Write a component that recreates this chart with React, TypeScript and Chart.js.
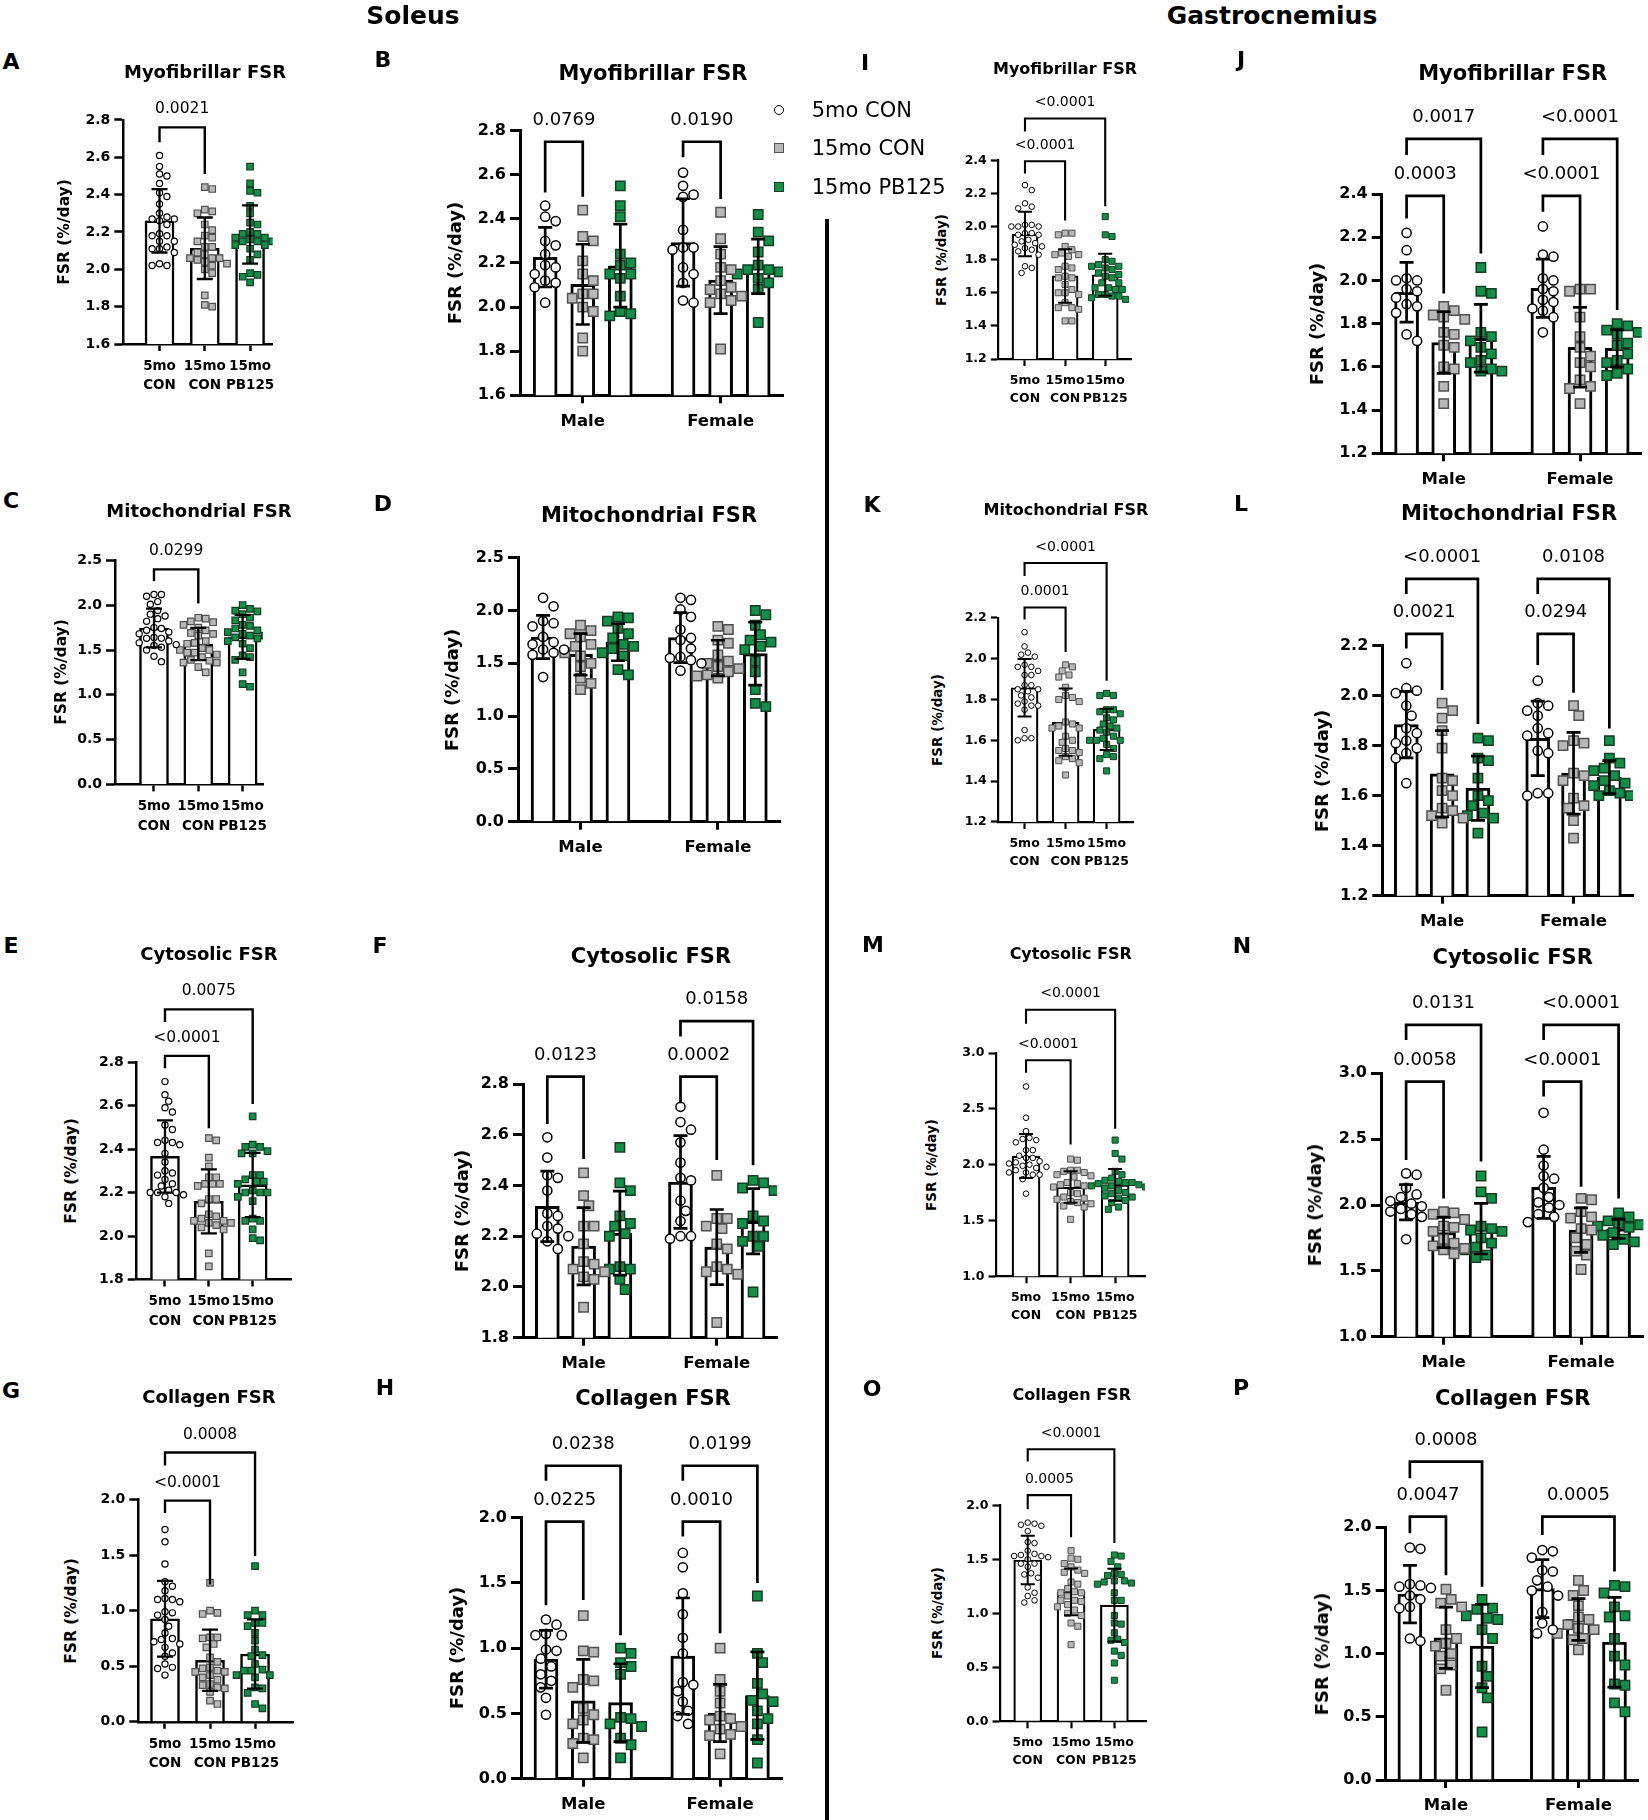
import React, { useEffect, useRef } from 'react';
import { Chart, registerables } from 'chart.js';

Chart.register(...registerables);

const FONT = '"DejaVu Sans", Verdana, sans-serif';

// ---------------- data ----------------
const groupLabels = ['5mo CON', '15mo CON', '15mo PB125'];
const smallTickLabels = [['5mo', 'CON'], ['15mo', 'CON'], ['15mo', 'PB125']];
const sexTickLabels = ['Male', 'Female'];

const yTicksSolMyo = [1.6, 1.8, 2.0, 2.2, 2.4, 2.6, 2.8];
const yTicksSolMito = [0, 0.5, 1.0, 1.5, 2.0, 2.5];
const yTicksSolCyto = [1.8, 2.0, 2.2, 2.4, 2.6, 2.8];
const yTicksCollagen = [0, 0.5, 1.0, 1.5, 2.0];
const yTicksGasMyo = [1.2, 1.4, 1.6, 1.8, 2.0, 2.2, 2.4];
const yTicksGasMito = [1.2, 1.4, 1.6, 1.8, 2.0, 2.2];
const yTicksGasCyto = [1.0, 1.5, 2.0, 2.5, 3.0];

// Soleus (order in each: 5mo CON, 15mo CON, 15mo PB125)
const soleusMyoMale = [
  [2.46, 2.41, 2.39, 2.30, 2.28, 2.24, 2.18, 2.19, 2.15, 2.12, 2.11, 2.09, 2.02],
  [2.44, 2.32, 2.30, 2.21, 2.15, 2.12, 2.06, 2.06, 2.04, 2.00, 1.98, 1.86, 1.80],
  [2.55, 2.46, 2.41, 2.24, 2.20, 2.19, 2.15, 2.15, 2.13, 2.05, 1.98, 1.97, 1.96],
];
const soleusMyoFemale = [
  [2.61, 2.55, 2.51, 2.50, 2.35, 2.27, 2.27, 2.26, 2.18, 2.15, 2.11, 2.03, 2.02],
  [2.43, 2.31, 2.24, 2.18, 2.17, 2.12, 2.09, 2.08, 2.06, 2.05, 2.03, 2.02, 1.81],
  [2.42, 2.34, 2.30, 2.25, 2.19, 2.17, 2.17, 2.16, 2.15, 2.13, 2.11, 2.08, 1.93],
];
const soleusMitoMale = [
  [2.12, 2.04, 1.90, 1.88, 1.85, 1.75, 1.70, 1.68, 1.63, 1.63, 1.60, 1.58, 1.37],
  [1.86, 1.81, 1.78, 1.75, 1.68, 1.66, 1.60, 1.57, 1.50, 1.47, 1.36, 1.31, 1.25],
  [1.94, 1.93, 1.90, 1.83, 1.78, 1.74, 1.68, 1.66, 1.64, 1.60, 1.57, 1.44, 1.39],
];
const soleusMitoFemale = [
  [2.12, 2.10, 2.01, 1.94, 1.82, 1.74, 1.72, 1.64, 1.56, 1.55, 1.53, 1.50, 1.43],
  [1.85, 1.82, 1.72, 1.69, 1.58, 1.52, 1.50, 1.47, 1.45, 1.42, 1.39, 1.38, 1.36],
  [2.00, 1.96, 1.86, 1.70, 1.77, 1.72, 1.66, 1.63, 1.52, 1.42, 1.25, 1.12, 1.09],
];
const soleusCytoMale = [
  [2.59, 2.51, 2.44, 2.43, 2.38, 2.29, 2.28, 2.24, 2.23, 2.21, 2.20, 2.18, 2.15],
  [2.45, 2.36, 2.32, 2.24, 2.24, 2.17, 2.10, 2.09, 2.07, 2.06, 2.04, 2.03, 1.92],
  [2.55, 2.41, 2.38, 2.28, 2.25, 2.24, 2.21, 2.20, 2.08, 2.07, 2.07, 2.03, 1.99],
];
const soleusCytoFemale = [
  [2.71, 2.65, 2.62, 2.57, 2.49, 2.43, 2.42, 2.34, 2.30, 2.26, 2.20, 2.20, 2.19],
  [2.44, 2.27, 2.27, 2.24, 2.23, 2.17, 2.15, 2.08, 2.07, 2.06, 2.05, 1.86],
  [2.42, 2.41, 2.39, 2.38, 2.28, 2.26, 2.25, 2.20, 2.20, 2.18, 2.16, 1.98],
];
const soleusCollMale = [
  [1.22, 1.18, 1.11, 1.10, 1.10, 0.99, 0.98, 0.92, 0.86, 0.80, 0.75, 0.70, 0.62, 0.49],
  [1.25, 0.98, 0.97, 0.76, 0.75, 0.70, 0.54, 0.49, 0.45, 0.42, 0.31, 0.30, 0.27, 0.16],
  [1.00, 0.96, 0.89, 0.86, 0.80, 0.47, 0.46, 0.42, 0.40, 0.31, 0.26, 0.16],
];
const soleusCollFemale = [
  [1.73, 1.62, 1.42, 1.26, 1.08, 0.96, 0.74, 0.72, 0.67, 0.59, 0.52, 0.48, 0.42],
  [1.00, 0.76, 0.67, 0.58, 0.48, 0.46, 0.45, 0.40, 0.38, 0.34, 0.33, 0.19],
  [1.40, 0.96, 0.89, 0.73, 0.65, 0.60, 0.59, 0.52, 0.46, 0.42, 0.30, 0.12],
];

// Gastrocnemius
const gastroMyoMale = [
  [2.22, 2.14, 2.00, 2.01, 2.00, 1.95, 1.96, 1.92, 1.89, 1.88, 1.85, 1.75, 1.72],
  [1.88, 1.86, 1.84, 1.83, 1.82, 1.76, 1.75, 1.70, 1.69, 1.60, 1.59, 1.51, 1.43],
  [2.06, 1.95, 1.94, 1.76, 1.74, 1.72, 1.69, 1.66, 1.63, 1.62, 1.59, 1.58, 1.58],
];
const gastroMyoFemale = [
  [2.25, 2.12, 2.11, 2.01, 2.00, 1.96, 1.95, 1.91, 1.90, 1.87, 1.86, 1.83, 1.76],
  [1.96, 1.96, 1.95, 1.83, 1.74, 1.69, 1.65, 1.62, 1.60, 1.54, 1.51, 1.50, 1.43],
  [1.80, 1.79, 1.77, 1.76, 1.75, 1.71, 1.70, 1.66, 1.63, 1.62, 1.59, 1.57, 1.56],
];
const gastroMitoMale = [
  [2.13, 2.03, 2.02, 2.01, 1.96, 1.92, 1.87, 1.85, 1.82, 1.81, 1.79, 1.77, 1.75, 1.65],
  [1.97, 1.94, 1.91, 1.86, 1.79, 1.67, 1.66, 1.62, 1.60, 1.55, 1.54, 1.52, 1.51, 1.49],
  [1.83, 1.82, 1.75, 1.74, 1.67, 1.60, 1.58, 1.56, 1.53, 1.52, 1.51, 1.45],
];
const gastroMitoFemale = [
  [2.06, 1.97, 1.96, 1.94, 1.92, 1.87, 1.85, 1.84, 1.78, 1.77, 1.61, 1.61, 1.60],
  [1.96, 1.92, 1.82, 1.81, 1.80, 1.69, 1.68, 1.66, 1.59, 1.56, 1.55, 1.50, 1.43],
  [1.82, 1.75, 1.73, 1.71, 1.70, 1.68, 1.66, 1.65, 1.64, 1.62, 1.61, 1.60, 1.60],
];
const gastroCytoMale = [
  [2.24, 2.23, 2.13, 2.08, 2.06, 2.03, 2.01, 1.99, 1.97, 1.95, 1.93, 1.91, 1.74],
  [1.95, 1.94, 1.93, 1.89, 1.84, 1.83, 1.80, 1.74, 1.71, 1.69, 1.67, 1.66, 1.63],
  [2.22, 2.10, 2.05, 1.84, 1.82, 1.81, 1.80, 1.75, 1.71, 1.68, 1.66, 1.62, 1.60],
];
const gastroCytoFemale = [
  [2.70, 2.42, 2.30, 2.22, 2.20, 2.13, 2.06, 2.02, 2.00, 1.98, 1.93, 1.91, 1.87],
  [2.05, 2.04, 1.95, 1.91, 1.90, 1.82, 1.81, 1.75, 1.70, 1.65, 1.62, 1.51],
  [1.94, 1.91, 1.88, 1.86, 1.85, 1.84, 1.83, 1.81, 1.79, 1.77, 1.74, 1.72, 1.70],
];
const gastroCollMale = [
  [1.84, 1.83, 1.55, 1.54, 1.53, 1.52, 1.46, 1.43, 1.37, 1.36, 1.12, 1.10],
  [1.51, 1.43, 1.40, 1.37, 1.19, 1.12, 1.08, 1.06, 1.00, 0.98, 0.91, 0.88, 0.71],
  [1.43, 1.36, 1.35, 1.30, 1.28, 1.27, 1.19, 1.12, 0.90, 0.82, 0.73, 0.65, 0.38],
];
const gastroCollFemale = [
  [1.82, 1.81, 1.76, 1.66, 1.65, 1.58, 1.53, 1.50, 1.46, 1.33, 1.24, 1.19, 1.16],
  [1.58, 1.50, 1.46, 1.38, 1.29, 1.27, 1.23, 1.20, 1.19, 1.16, 1.12, 1.11, 1.03],
  [1.54, 1.53, 1.48, 1.37, 1.30, 1.29, 1.12, 0.98, 0.91, 0.76, 0.75, 0.61, 0.54],
];

// significance brackets: bar indices, bracket top / leg ends in data units, label
const bracketsA = [{ from: 0, to: 1, top: 2.76, left: 2.68, right: 2.51, label: '0.0021' }];
const bracketsB = [
  { from: 0, to: 1, top: 2.75, left: 2.52, right: 2.50, label: '0.0769' },
  { from: 3, to: 4, top: 2.75, left: 2.68, right: 2.49, label: '0.0190' },
];
const bracketsC = [{ from: 0, to: 1, top: 2.40, left: 2.27, right: 2.02, label: '0.0299' }];
const bracketsD: any[] = [];
const bracketsE = [
  { from: 0, to: 1, top: 2.828, left: 2.771, right: 2.495, label: '<0.0001' },
  { from: 0, to: 2, top: 3.042, left: 2.984, right: 2.607, label: '0.0075' },
];
const bracketsF = [
  { from: 0, to: 1, top: 2.829, left: 2.642, right: 2.504, label: '0.0123' },
  { from: 3, to: 4, top: 2.829, left: 2.724, right: 2.50, label: '0.0002' },
  { from: 3, to: 5, top: 3.048, left: 2.987, right: 2.48, label: '0.0158' },
];
const bracketsG = [
  { from: 0, to: 1, top: 1.99, left: 1.879, right: 1.236, label: '<0.0001' },
  { from: 0, to: 2, top: 2.423, left: 2.306, right: 1.492, label: '0.0008' },
];
const bracketsH = [
  { from: 0, to: 1, top: 1.97, left: 1.33, right: 1.37, label: '0.0225' },
  { from: 0, to: 2, top: 2.398, left: 2.284, right: 1.10, label: '0.0238' },
  { from: 3, to: 4, top: 1.97, left: 1.855, right: 1.114, label: '0.0010' },
  { from: 3, to: 5, top: 2.398, left: 2.284, right: 1.50, label: '0.0199' },
];
const bracketsI = [
  { from: 0, to: 1, top: 2.394, left: 2.321, right: 2.037, label: '<0.0001' },
  { from: 0, to: 2, top: 2.652, left: 2.574, right: 2.122, label: '<0.0001' },
];
const bracketsJ = [
  { from: 0, to: 1, top: 2.391, left: 2.287, right: 1.94, label: '0.0003' },
  { from: 0, to: 2, top: 2.655, left: 2.58, right: 2.125, label: '0.0017' },
  { from: 3, to: 4, top: 2.391, left: 2.318, right: 1.809, label: '<0.0001' },
  { from: 3, to: 5, top: 2.655, left: 2.58, right: 1.863, label: '<0.0001' },
];
const bracketsK = [
  { from: 0, to: 1, top: 2.251, left: 2.192, right: 2.033, label: '0.0001' },
  { from: 0, to: 2, top: 2.469, left: 2.405, right: 1.892, label: '<0.0001' },
];
const bracketsL = [
  { from: 0, to: 1, top: 2.247, left: 2.189, right: 2.023, label: '0.0021' },
  { from: 0, to: 2, top: 2.467, left: 2.407, right: 1.887, label: '<0.0001' },
  { from: 3, to: 4, top: 2.247, left: 2.123, right: 2.012, label: '0.0294' },
  { from: 3, to: 5, top: 2.467, left: 2.407, right: 1.869, label: '0.0108' },
];
const bracketsM = [
  { from: 0, to: 1, top: 2.935, left: 2.824, right: 2.181, label: '<0.0001' },
  { from: 0, to: 2, top: 3.387, left: 3.262, right: 2.322, label: '<0.0001' },
];
const bracketsN = [
  { from: 0, to: 1, top: 2.937, left: 2.342, right: 2.05, label: '0.0058' },
  { from: 0, to: 2, top: 3.367, left: 3.253, right: 2.33, label: '0.0131' },
  { from: 3, to: 4, top: 2.937, left: 2.823, right: 2.139, label: '<0.0001' },
  { from: 3, to: 5, top: 3.367, left: 3.253, right: 2.05, label: '<0.0001' },
];
const bracketsO = [
  { from: 0, to: 1, top: 2.094, left: 1.964, right: 1.704, label: '0.0005' },
  { from: 0, to: 2, top: 2.519, left: 2.406, right: 1.652, label: '<0.0001' },
];
const bracketsP = [
  { from: 0, to: 1, top: 2.084, left: 1.953, right: 1.62, label: '0.0047' },
  { from: 0, to: 2, top: 2.52, left: 2.388, right: 1.53, label: '0.0008' },
  { from: 3, to: 5, top: 2.084, left: 1.94, right: 1.65, label: '0.0005' },
];

// ---------------- helpers ----------------
const pool = (m: number[][], f: number[][]) => m.map((g, i) => g.concat(f[i]));
const bySex = (m: number[][], f: number[][]) => [...m, ...f];
const mean = (a: number[]) => a.reduce((s, v) => s + v, 0) / a.length;
const sdev = (a: number[]) => {
  const m = mean(a);
  return Math.sqrt(a.reduce((s, v) => s + (v - m) * (v - m), 0) / (a.length - 1));
};

const BIG_X = [0, 1, 2, 3.67, 4.67, 5.67];
const BIG_TICKS = [1, 4.67];
const SMALL_X = [0, 1, 2];

const MARKER_FILL = ['#ffffff', '#b8b8b8', '#119147'];
const MARKER_STROKE = ['#000000', '#505050', '#173d25'];

const STYLE: any = {
  big: {
    yW: 60, xH: 60, top: 120, barBorder: 3, axisW: 3, tickLenY: 10, tickLenX: 8, tickW: 3,
    yFont: 16, xFont: 16.5, xLine: 20, xPad: 8, errW: 2.7, cap: 7, brW: 2.7, pFont: 18, pOff: 21.5,
    rc: 4.6, rr: 6.6, pbw: 1.5, swarmD: 10.5, titleFont: 21, yTitleFont: 18,
  },
  sol: {
    yW: 50, xH: 60, top: 110, barBorder: 2.5, axisW: 2.5, tickLenY: 9, tickLenX: 7, tickW: 2.5,
    yFont: 14, xFont: 13.5, xLine: 19.5, xPad: 5.5, errW: 2.3, cap: 8, brW: 2.4, pFont: 15.5, pOff: 18,
    rc: 3.1, rr: 4.6, pbw: 1.2, swarmD: 7.4, titleFont: 18, yTitleFont: 15.5,
  },
  gas: {
    yW: 45, xH: 55, top: 100, barBorder: 2.2, axisW: 2.2, tickLenY: 7.5, tickLenX: 7, tickW: 2.2,
    yFont: 12.5, xFont: 12.5, xLine: 18, xPad: 5.5, errW: 2, cap: 7, brW: 2.1, pFont: 14, pOff: 16,
    rc: 2.8, rr: 4.3, pbw: 1, swarmD: 6.8, titleFont: 16, yTitleFont: 13.5,
  },
};

const PANELS: any[] = [
  { letter: 'A', kind: 'sol', title: 'Myofibrillar FSR', groups: pool(soleusMyoMale, soleusMyoFemale), yTicks: yTicksSolMyo, brackets: bracketsA,
    plot: { l: 123.3, t: 119.9, r: 272.7, b: 344 }, xr: [-0.8, 2.5], barW: 29, titleAt: [205, 71.6], letterAt: [11, 62], yTitleX: 65 },
  { letter: 'B', kind: 'big', title: 'Myofibrillar FSR', groups: bySex(soleusMyoMale, soleusMyoFemale), yTicks: yTicksSolMyo, brackets: bracketsB,
    plot: { l: 520, t: 130.7, r: 783, b: 395.3 }, xr: [-0.67, 6.33], barW: 24, titleAt: [653, 73], letterAt: [383, 60], yTitleX: 455 },
  { letter: 'C', kind: 'sol', title: 'Mitochondrial FSR', groups: pool(soleusMitoMale, soleusMitoFemale), yTicks: yTicksSolMito, brackets: bracketsC,
    plot: { l: 115, t: 560.4, r: 263, b: 784.4 }, xr: [-0.88, 2.46], barW: 29, titleAt: [199, 511], letterAt: [11, 501], yTitleX: 61.7 },
  { letter: 'D', kind: 'big', title: 'Mitochondrial FSR', groups: bySex(soleusMitoMale, soleusMitoFemale), yTicks: yTicksSolMito, brackets: bracketsD,
    plot: { l: 518, t: 557.7, r: 780, b: 821.7 }, xr: [-0.67, 6.33], barW: 24, titleAt: [649, 515], letterAt: [383, 504], yTitleX: 451.7 },
  { letter: 'E', kind: 'sol', title: 'Cytosolic FSR', groups: pool(soleusCytoMale, soleusCytoFemale), yTicks: yTicksSolCyto, brackets: bracketsE,
    plot: { l: 136.7, t: 1062, r: 291.7, b: 1279.5 }, xr: [-0.645, 2.89], barW: 29, titleAt: [209, 954], letterAt: [11, 946], yTitleX: 71.7 },
  { letter: 'F', kind: 'big', title: 'Cytosolic FSR', groups: bySex(soleusCytoMale, soleusCytoFemale), yTicks: yTicksSolCyto, brackets: bracketsF,
    plot: { l: 523, t: 1084, r: 777, b: 1337.7 }, xr: [-0.67, 6.33], barW: 24, titleAt: [651, 956], letterAt: [380, 946], yTitleX: 461.7 },
  { letter: 'G', kind: 'sol', title: 'Collagen FSR', groups: pool(soleusCollMale, soleusCollFemale), yTicks: yTicksCollagen, brackets: bracketsG,
    plot: { l: 138.3, t: 1499.5, r: 293.3, b: 1721.8 }, xr: [-0.593, 2.85], barW: 29, titleAt: [209, 1397], letterAt: [11, 1391], yTitleX: 71.7 },
  { letter: 'H', kind: 'big', title: 'Collagen FSR', groups: bySex(soleusCollMale, soleusCollFemale), yTicks: yTicksCollagen, brackets: bracketsH,
    plot: { l: 521, t: 1517.7, r: 782, b: 1778.7 }, xr: [-0.67, 6.33], barW: 24, titleAt: [653, 1398], letterAt: [385, 1388], yTitleX: 456.7 },
  { letter: 'I', kind: 'gas', title: 'Myofibrillar FSR', groups: pool(gastroMyoMale, gastroMyoFemale), yTicks: yTicksGasMyo, brackets: bracketsI,
    plot: { l: 998.3, t: 160.3, r: 1131.7, b: 359 }, xr: [-0.665, 2.66], barW: 26, titleAt: [1065, 68.8], letterAt: [865, 63], yTitleX: 941.7 },
  { letter: 'J', kind: 'big', title: 'Myofibrillar FSR', groups: bySex(gastroMyoMale, gastroMyoFemale), yTicks: yTicksGasMyo, brackets: bracketsJ,
    plot: { l: 1381.7, t: 194, r: 1641.7, b: 453.3 }, xr: [-0.67, 6.33], barW: 24, titleAt: [1512.7, 73], letterAt: [1241, 60], yTitleX: 1316.7 },
  { letter: 'K', kind: 'gas', title: 'Mitochondrial FSR', groups: pool(gastroMitoMale, gastroMitoFemale), yTicks: yTicksGasMito, brackets: bracketsK,
    plot: { l: 998.3, t: 617.9, r: 1133.3, b: 821.9 }, xr: [-0.64, 2.65], barW: 27, titleAt: [1066, 509.7], letterAt: [872, 505], yTitleX: 938.3 },
  { letter: 'L', kind: 'big', title: 'Mitochondrial FSR', groups: bySex(gastroMitoMale, gastroMitoFemale), yTicks: yTicksGasMito, brackets: bracketsL,
    plot: { l: 1382.3, t: 645.7, r: 1633, b: 895.7 }, xr: [-0.67, 6.33], barW: 24, titleAt: [1509, 513], letterAt: [1241, 504], yTitleX: 1321.7 },
  { letter: 'M', kind: 'gas', title: 'Cytosolic FSR', groups: pool(gastroCytoMale, gastroCytoFemale), yTicks: yTicksGasCyto, brackets: bracketsM,
    plot: { l: 996, t: 1053, r: 1145, b: 1276.3 }, xr: [-0.674, 2.67], barW: 28, titleAt: [1070.7, 953.7], letterAt: [873, 945], yTitleX: 931.7 },
  { letter: 'N', kind: 'big', title: 'Cytosolic FSR', groups: bySex(gastroCytoMale, gastroCytoFemale), yTicks: yTicksGasCyto, brackets: bracketsN,
    plot: { l: 1381, t: 1073.3, r: 1643.3, b: 1336.7 }, xr: [-0.67, 6.33], barW: 24, titleAt: [1512.7, 956.7], letterAt: [1242, 946], yTitleX: 1315 },
  { letter: 'O', kind: 'gas', title: 'Collagen FSR', groups: pool(gastroCollMale, gastroCollFemale), yTicks: yTicksCollagen, brackets: bracketsO,
    plot: { l: 1000, t: 1505.3, r: 1146, b: 1721.3 }, xr: [-0.64, 2.73], barW: 28, titleAt: [1071.7, 1395.3], letterAt: [872, 1389], yTitleX: 938.3 },
  { letter: 'P', kind: 'big', title: 'Collagen FSR', groups: bySex(gastroCollMale, gastroCollFemale), yTicks: yTicksCollagen, brackets: bracketsP,
    plot: { l: 1385.7, t: 1527.3, r: 1638.3, b: 1780 }, xr: [-0.67, 6.33], barW: 24, titleAt: [1512.7, 1398], letterAt: [1241, 1388], yTitleX: 1321.7 },
];

// beeswarm-style horizontal spread (pixel offsets) so markers don't pile up
function swarmOffsets(pys: number[], d: number): number[] {
  const order = pys.map((_, i) => i).sort((a, b) => pys[a] - pys[b]);
  const placed: [number, number][] = [];
  const out = pys.map(() => 0);
  const step = d * 0.5;
  const thr = d * 1.0;
  for (const i of order) {
    const y = pys[i];
    let chosen = 0;
    for (let k = 0; k < 80; k++) {
      const mag = Math.ceil(k / 2) * step;
      const cand = k % 2 === 1 ? mag : -mag;
      let ok = true;
      for (const [px, py] of placed) {
        const dx = px - cand, dy = py - y;
        if (dx * dx + dy * dy < thr * thr) { ok = false; break; }
      }
      if (ok) { chosen = cand; break; }
    }
    out[i] = chosen + 0;
    placed.push([chosen, y]);
  }
  return out;
}

function Panel({ p }: { p: any }) {
  const ref = useRef<HTMLCanvasElement>(null);
  const st = STYLE[p.kind];
  const cl = Math.round(p.plot.l - st.yW);
  const ct = Math.round(p.plot.t - st.top);
  const cw = Math.round(p.plot.r + 30) - cl;
  const ch = Math.round(p.plot.b + st.xH) - ct;

  useEffect(() => {
    const canvas = ref.current;
    if (!canvas) return;
    const isBig = p.groups.length === 6;
    const xPos = isBig ? BIG_X : SMALL_X;
    const xTicks = isBig ? BIG_TICKS : SMALL_X;
    const xLabels: any[] = isBig ? sexTickLabels : smallTickLabels;
    const means = p.groups.map(mean);
    const sds = p.groups.map(sdev);
    const yTicks: number[] = p.yTicks;

    const overlay = {
      id: 'overlay',
      afterDatasetsDraw(chart: any) {
        const ctx = chart.ctx;
        const xs = chart.scales.x, ys = chart.scales.y;
        ctx.save();
        ctx.strokeStyle = '#000';
        ctx.lineCap = 'butt';
        ctx.lineWidth = st.errW;
        means.forEach((m: number, i: number) => {
          const x = xs.getPixelForValue(xPos[i]);
          const y1 = ys.getPixelForValue(m - sds[i]);
          const y2 = ys.getPixelForValue(m + sds[i]);
          ctx.beginPath();
          ctx.moveTo(x, y1); ctx.lineTo(x, y2);
          ctx.moveTo(x - st.cap, y1); ctx.lineTo(x + st.cap, y1);
          ctx.moveTo(x - st.cap, y2); ctx.lineTo(x + st.cap, y2);
          ctx.stroke();
        });
        ctx.lineWidth = st.brW;
        ctx.lineJoin = 'miter';
        ctx.fillStyle = '#000';
        ctx.font = `${st.pFont}px ${FONT}`;
        ctx.textAlign = 'center';
        ctx.textBaseline = 'middle';
        p.brackets.forEach((bk: any) => {
          const x1 = xs.getPixelForValue(xPos[bk.from]);
          const x2 = xs.getPixelForValue(xPos[bk.to]);
          const yt = ys.getPixelForValue(bk.top);
          const yl = ys.getPixelForValue(bk.left);
          const yr = ys.getPixelForValue(bk.right);
          ctx.beginPath();
          ctx.moveTo(x1, yl); ctx.lineTo(x1, yt); ctx.lineTo(x2, yt); ctx.lineTo(x2, yr);
          ctx.stroke();
          ctx.fillText(bk.label, (x1 + x2) / 2, yt - st.pOff);
        });
        ctx.restore();
      },
    };

    const datasets: any[] = [
      {
        type: 'bar',
        label: 'mean',
        data: means.map((m: number, i: number) => ({ x: xPos[i], y: m })),
        backgroundColor: '#ffffff',
        borderColor: '#000000',
        borderWidth: st.barBorder,
        barThickness: p.barW,
        borderSkipped: 'start',
        order: 2,
      },
      ...p.groups.map((vals: number[], gi: number) => {
        const k = gi % 3;
        return {
          type: 'scatter',
          label: groupLabels[k],
          data: vals.map((v) => ({ x: xPos[gi], y: v })),
          pointStyle: k === 0 ? 'circle' : 'rect',
          pointRadius: k === 0 ? st.rc : st.rr,
          pointHoverRadius: k === 0 ? st.rc : st.rr,
          pointBackgroundColor: MARKER_FILL[k],
          pointBorderColor: MARKER_STROKE[k],
          pointBorderWidth: st.pbw,
          order: 1,
        };
      }),
    ];

    const chart = new Chart(canvas, {
      type: 'bar',
      data: { datasets },
      options: {
        animation: false,
        responsive: false,
        devicePixelRatio: 1,
        events: [],
        layout: { padding: { left: 0, top: p.plot.t - ct, right: cl + cw - p.plot.r, bottom: 0 } },
        plugins: { legend: { display: false }, tooltip: { enabled: false }, title: { display: false } },
        scales: {
          x: {
            type: 'linear',
            min: p.xr[0],
            max: p.xr[1],
            offset: false,
            afterBuildTicks: (s: any) => { s.ticks = xTicks.map((v: number) => ({ value: v })); },
            afterFit: (s: any) => { s.height = ct + ch - p.plot.b; },
            ticks: {
              autoSkip: false,
              maxRotation: 0,
              minRotation: 0,
              padding: st.xPad,
              color: '#000',
              font: { family: FONT, size: st.xFont, weight: 'bold', lineHeight: st.xLine + 'px' },
              callback: (_v: any, i: number) => xLabels[i],
            },
            grid: { display: true, offset: false, drawOnChartArea: false, drawTicks: true, tickLength: st.tickLenX, tickWidth: st.tickW, tickColor: '#000', color: '#000' },
            border: { display: true, color: '#000', width: st.axisW },
          },
          y: {
            type: 'linear',
            min: yTicks[0],
            max: yTicks[yTicks.length - 1],
            afterBuildTicks: (s: any) => { s.ticks = yTicks.map((v) => ({ value: v })); },
            afterFit: (s: any) => { s.width = p.plot.l - cl; },
            ticks: {
              padding: 4,
              color: '#000',
              font: { family: FONT, size: st.yFont, weight: 'bold' },
              callback: (v: any) => Number(v).toFixed(1),
            },
            grid: { display: true, drawOnChartArea: false, drawTicks: true, tickLength: st.tickLenY, tickWidth: st.tickW, tickColor: '#000', color: '#000' },
            border: { display: true, color: '#000', width: st.axisW },
          },
        },
      } as any,
      plugins: [overlay],
    } as any);

    // spread the dots horizontally, computed in pixel space from the chart's own scales
    const xs: any = chart.scales.x, ys: any = chart.scales.y;
    const pxPerUnit = xs.getPixelForValue(1) - xs.getPixelForValue(0);
    p.groups.forEach((vals: number[], gi: number) => {
      const pys = vals.map((v) => ys.getPixelForValue(v));
      const offs = swarmOffsets(pys, st.swarmD);
      chart.data.datasets[gi + 1].data = vals.map((v, k) => ({ x: xPos[gi] + offs[k] / pxPerUnit, y: v })) as any;
    });
    chart.update('none');

    return () => chart.destroy();
  }, []);

  return (
    <canvas
      ref={ref}
      width={cw}
      height={ch}
      style={{ position: 'absolute', left: cl, top: ct, width: cw, height: ch }}
    />
  );
}

function Txt({ x, y, size, bold, rotate, children }: any) {
  return (
    <div
      style={{
        position: 'absolute',
        left: x,
        top: y,
        transform: `translate(-50%, -50%)${rotate ? ' rotate(-90deg)' : ''}`,
        fontFamily: FONT,
        fontSize: size,
        fontWeight: bold ? 700 : 400,
        whiteSpace: 'nowrap',
        lineHeight: 1,
        color: '#000',
      }}
    >
      {children}
    </div>
  );
}

function LegendRow({ y, k }: { y: number; k: number }) {
  const size = 10;
  return (
    <>
      <div
        style={{
          position: 'absolute',
          left: 779.3 - size / 2,
          top: y - size / 2,
          width: size,
          height: size,
          boxSizing: 'border-box',
          background: MARKER_FILL[k],
          border: `1.5px solid ${MARKER_STROKE[k]}`,
          borderRadius: k === 0 ? '50%' : 0,
        }}
      />
      <div
        style={{
          position: 'absolute',
          left: 811.7,
          top: y,
          transform: 'translateY(-50%)',
          fontFamily: FONT,
          fontSize: 21,
          lineHeight: 1,
          whiteSpace: 'nowrap',
          color: '#000',
        }}
      >
        {groupLabels[k]}
      </div>
    </>
  );
}

export default function App() {
  return (
    <div
      style={{
        position: 'absolute',
        left: 0,
        top: 0,
        width: 1648,
        height: 1820,
        background: '#ffffff',
        overflow: 'hidden',
      }}
    >
      {PANELS.map((p) => (
        <Panel key={p.letter} p={p} />
      ))}

      <Txt x={413} y={15} size={25} bold>Soleus</Txt>
      <Txt x={1272} y={15} size={25} bold>Gastrocnemius</Txt>

      <div style={{ position: 'absolute', left: 825, top: 219, width: 4, height: 1601, background: '#000' }} />

      {PANELS.map((p) => {
        const st = STYLE[p.kind];
        return (
          <React.Fragment key={'t' + p.letter}>
            <Txt x={p.letterAt[0]} y={p.letterAt[1]} size={22} bold>{p.letter}</Txt>
            <Txt x={p.titleAt[0]} y={p.titleAt[1]} size={st.titleFont} bold>{p.title}</Txt>
            <Txt x={p.yTitleX} y={(p.plot.t + p.plot.b) / 2} size={st.yTitleFont} bold rotate>FSR (%/day)</Txt>
          </React.Fragment>
        );
      })}

      <LegendRow y={110} k={0} />
      <LegendRow y={148.3} k={1} />
      <LegendRow y={186.7} k={2} />
    </div>
  );
}
